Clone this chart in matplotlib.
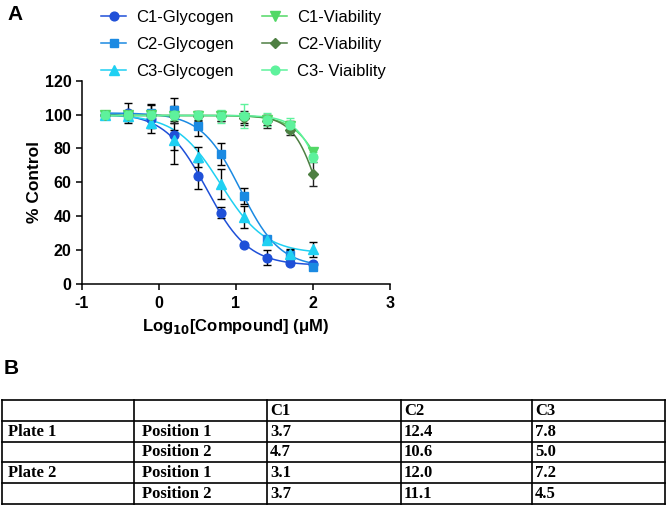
import numpy as np
import matplotlib.pyplot as plt
from matplotlib.lines import Line2D

plt.rcParams['font.family'] = ['Liberation Sans', 'DejaVu Sans']
plt.rcParams['axes.unicode_minus'] = False

# log10 concentration (uM)
log_conc = [-0.7, -0.4, -0.1, 0.2, 0.5, 0.8, 1.1, 1.4, 1.7, 2.0]

c1_gly = [100, 101, 97.4, 88, 64, 42.2, 23, 15.6, 12.4, 11.6]
c1_gly_err = [0.5, 6, 8, 17, 8, 3.5, 1, 4.3, 1, 1.5]
c2_gly = [100, 100, 101, 102.5, 93, 77, 52, 26.5, 17.4, 10]
c2_gly_err = [0.5, 2, 5, 7.5, 5.5, 6.5, 4.5, 2, 3.3, 1]
c3_gly = [99.5, 99, 95, 85, 75, 59, 39.5, 26, 18, 20.5]
c3_gly_err = [0.5, 3, 3, 6, 6, 9, 6.5, 2, 2, 4.5]

c1_via = [100, 100, 100, 99, 99, 99, 98, 97, 93, 78]
c1_via_err = [1, 1, 2, 3, 2, 3, 3, 3, 3, 2]
c2_via = [100, 100, 100, 99, 99, 99, 98, 96, 91, 65]
c2_via_err = [1, 2, 3, 4, 3, 3, 4, 4, 3, 7]
c3_via = [100, 100, 100, 100, 99.5, 99, 99, 97, 94, 75]
c3_via_err = [1, 1, 2, 3, 2, 4, 7, 4, 4, 3]

# 4PL fit parameters: top, bottom, logIC50, hill
fit_c1_gly = [101, 11, 0.62, 1.6]
fit_c2_gly = [101, 10, 1.06, 1.7]
fit_c3_gly = [100, 18, 0.80, 1.5]
fit_c1_via = [99.5, 0, 2.28, 2.0]
fit_c2_via = [99.5, 0, 2.11, 2.5]
fit_c3_via = [99.5, 0, 2.20, 2.5]

labels = ['C1-Glycogen', 'C2-Glycogen', 'C3-Glycogen',
          'C1-Viability', 'C2-Viability', 'C3- Viaiblity']

# table B
tab_header = ['', '', 'C1', 'C2', 'C3']
tab_rows = [['Plate 1', 'Position 1', '3.7', '12.4', '7.8'],
            ['', 'Position 2', '4.7', '10.6', '5.0'],
            ['Plate 2', 'Position 1', '3.1', '12.0', '7.2'],
            ['', 'Position 2', '3.7', '11.1', '4.5']]


def four_pl(x, p):
    top, bottom, c, h = p
    return bottom + (top - bottom) / (1 + 10 ** ((x - c) * h))


series = [
    (c1_gly, c1_gly_err, fit_c1_gly, '#1f50d8', 'o', 6.3, 'black'),
    (c2_gly, c2_gly_err, fit_c2_gly, '#1b8ae2', 's', 6.3, 'black'),
    (c3_gly, c3_gly_err, fit_c3_gly, '#1fd0f2', '^', 6.8, 'black'),
    (c1_via, c1_via_err, fit_c1_via, '#52d866', 'v', 6.8, 'black'),
    (c2_via, c2_via_err, fit_c2_via, '#4e7f42', 'D', 4.6, '#222222'),
    (c3_via, c3_via_err, fit_c3_via, '#5ef29c', 'o', 6.3, '#5ef29c'),
]

W, H = 667, 505
fig = plt.figure(figsize=(W / 100, H / 100), dpi=100)

# full-figure axes in pixel coords for labels and table
axt = fig.add_axes([0, 0, 1, 1])
axt.set_xlim(0, W)
axt.set_ylim(H, 0)
axt.axis('off')

ax = fig.add_axes([82 / W, 1 - 284 / H, (390 - 82) / W, (284 - 80.7) / H])

xs = np.linspace(min(log_conc), max(log_conc), 300)
handles = []
for (y, err, fit, col, mk, ms, ecol), lab in zip(series, labels):
    ax.plot(xs, four_pl(xs, fit), color=col, lw=1.1, zorder=2)
    ax.errorbar(log_conc, y, yerr=err, fmt='none', ecolor=ecol,
                elinewidth=1.0, capsize=3.2, capthick=1.0, zorder=3)
    ax.plot(log_conc, y, ls='none', marker=mk, ms=ms, color=col,
            mec=col, zorder=4)
    handles.append(Line2D([], [], color=col, lw=1.1, marker=mk, ms=ms,
                          label=lab))

ax.set_xlim(-1, 3)
ax.set_ylim(0, 120)
ax.set_xticks([-1, 0, 1, 2, 3])
ax.set_yticks(range(0, 121, 20))
for s in ['top', 'right']:
    ax.spines[s].set_visible(False)
for s in ['left', 'bottom']:
    ax.spines[s].set_linewidth(1.1)
ax.tick_params(width=1.1, length=4, labelsize=11.5)
ax.tick_params(axis='x', pad=5)
for t in ax.get_xticklabels() + ax.get_yticklabels():
    t.set_fontweight('bold')
ax.set_xlabel('Log$_{\\mathbf{10}}$[Compound] (\u03bcM)', fontsize=12,
              fontweight='bold', labelpad=4)
ax.set_ylabel('% Control', fontsize=12.5, fontweight='bold', labelpad=2)

fig.legend(handles=handles, ncol=2, loc='upper left',
           bbox_to_anchor=(93 / W, 1 - 2 / H), frameon=False,
           fontsize=12, handlelength=1.5, handletextpad=0.6,
           columnspacing=1.7, labelspacing=0.72, borderpad=0)

axt.text(7, 15, 'A', fontsize=15, fontweight='bold', va='center')
axt.text(4, 368, 'B', fontsize=15, fontweight='bold', va='center')

# table
col_x = [1.5, 134, 267, 401, 532, 665]
pad = [7, 8, 3, 3, 3]
row_top, row_h = 400, 20.8
n_rows = len(tab_rows) + 1
for i in range(n_rows + 1):
    yy = row_top + i * row_h
    axt.plot([col_x[0], col_x[-1]], [yy, yy], color='black', lw=1.2)
for xx in col_x:
    axt.plot([xx, xx], [row_top, row_top + n_rows * row_h], color='black',
             lw=1.2)
for r, row in enumerate([tab_header] + tab_rows):
    yc = row_top + (r + 0.5) * row_h + 0.5
    for c, txt in enumerate(row):
        axt.text(col_x[c] + pad[c], yc, txt, family='Liberation Serif',
                 fontweight='bold', fontsize=12, va='center', ha='left')

fig.savefig('out.png', dpi=100)
